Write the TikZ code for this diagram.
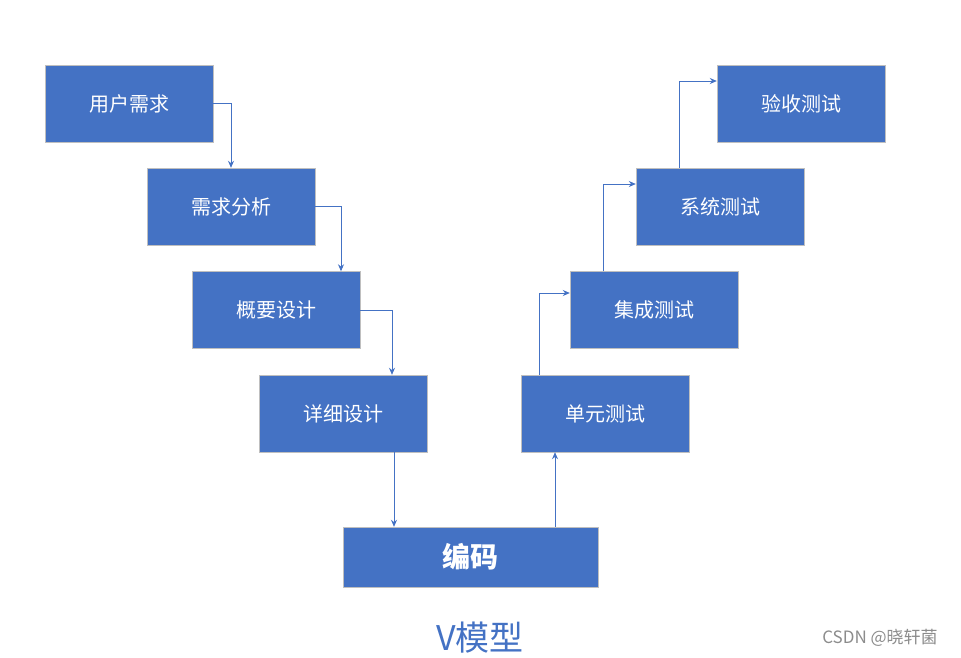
\documentclass[tikz,border=0pt]{standalone}
\usepackage{fontspec}
\setmainfont{Noto Sans CJK SC}
\usetikzlibrary{arrows.meta}
\definecolor{bl}{HTML}{4472C4}
\begin{document}
\begin{tikzpicture}[x=1pt,y=-1pt,
 box/.style={draw=black!25,fill=bl,text=white,minimum width=168pt,minimum height=77pt,inner sep=0pt,font=\fontsize{20}{24}\selectfont},
 arr/.style={draw=bl,line width=0.9pt,-{Stealth[length=7pt,width=6pt]}}]
\useasboundingbox (0,0) rectangle (961,657);
\node[box] (a) at (129,103.5) {用户需求};
\node[box] (b) at (231,206.5) {需求分析};
\node[box] (c) at (276,310) {概要设计};
\node[box] (d) at (343,413.5) {详细设计};
\node[box,minimum width=255pt,minimum height=60pt,font=\fontsize{28}{32}\selectfont\bfseries] (e) at (470.5,557) {编码};
\node[box] (f) at (605,413.5) {单元测试};
\node[box] (g) at (654,310) {集成测试};
\node[box] (h) at (720,206.5) {系统测试};
\node[box] (i) at (801,103.5) {验收测试};
\draw[arr] (a.east) -| (b.north);
\draw[arr] (b.east) -| ([xshift=65pt]c.north);
\draw[arr] (c.east) -| ([xshift=49pt]d.north);
\draw[arr] ([xshift=51pt]d.south) -- ([xshift=-76.5pt]e.north);
\draw[arr] ([xshift=84.5pt]e.north) -- ([xshift=-50pt]f.south);
\draw[arr] ([xshift=-66pt]f.north) |- ([yshift=17pt]g.west);
\draw[arr] ([xshift=-51pt]g.north) |- ([yshift=22.5pt]h.west);
\draw[arr] ([xshift=-41pt]h.north) |- ([yshift=22.5pt]i.west);
\node[text=bl,font=\fontsize{34}{38}\selectfont] (t) at (480,638) {V模型};
\node[text=black!45,font=\fontsize{17}{20}\selectfont] (w) at (880,638) {CSDN @晓轩菌};
\end{tikzpicture}
\end{document}
